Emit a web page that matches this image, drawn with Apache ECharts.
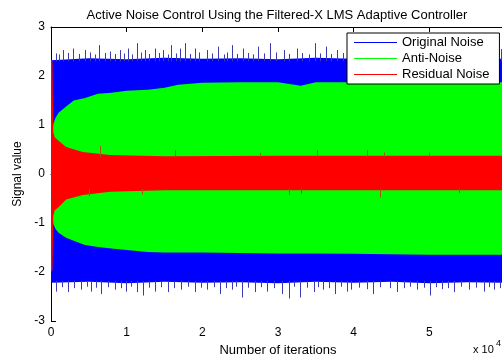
<!DOCTYPE html>
<html>
<head>
<meta charset="utf-8">
<script src="https://cdn.jsdelivr.net/npm/echarts@6/dist/echarts.min.js"></script>
<style>
  html, body { margin: 0; background: #fff; }
  #chart { width: 502px; height: 354px; }
</style>
</head>
<body>
<div id="chart"></div>
<script>
// x values are in units of 10^4 iterations
var scale = 10000
var xTicks = [0, 1, 2, 3, 4, 5, 6]
var yTicks = [-3, -2, -1, 0, 1, 2, 3]
var seriesNames = ['Original Noise', 'Anti-Noise', 'Residual Noise']
var seriesColors = ['#0000ff', '#00ff00', '#ff0000']

// original noise envelope
var origX   = [0, 0.5, 1, 1.5, 2, 2.5, 3, 3.5, 4, 4.5, 5, 5.5, 6]
var origTop = [2.32, 2.36, 2.34, 2.37, 2.35, 2.36, 2.34, 2.37, 2.35, 2.35, 2.36, 2.35, 2.35]
var origBot = [-2.22, -2.2, -2.23, -2.2, -2.22, -2.21, -2.23, -2.2, -2.22, -2.2, -2.23, -2.21, -2.22]
var origPeakX = [0.06, 0.16, 0.29, 0.45, 0.64, 0.78, 0.91, 1.02, 1.13, 1.24, 1.37, 1.48, 1.59, 1.70, 1.77, 1.90,
  2.06, 2.21, 2.39, 2.54, 2.74, 2.90, 3.08, 3.25, 3.49, 3.63, 3.78, 5.95,
  0.11, 0.22, 0.37, 0.52, 0.58, 0.71, 0.85, 0.97, 1.07, 1.19, 1.30, 1.43, 1.54, 1.65, 1.84, 1.96,
  2.13, 2.28, 2.33, 2.46, 2.61, 2.67, 2.82, 2.97, 3.15, 3.32, 3.41, 3.56, 3.70, 3.86]
var origPeakY = [2.46, 2.53, 2.56, 2.53, 2.63, 2.5, 2.53, 2.56, 2.67, 2.53, 2.56, 2.53, 2.63, 2.56, 2.67, 2.56,
  2.53, 2.6, 2.63, 2.56, 2.6, 2.67, 2.53, 2.56, 2.67, 2.6, 2.53, 2.55,
  2.44, 2.47, 2.45, 2.48, 2.44, 2.47, 2.45, 2.46, 2.44, 2.48, 2.45, 2.47, 2.44, 2.46, 2.45, 2.48,
  2.46, 2.44, 2.48, 2.45, 2.47, 2.44, 2.46, 2.48, 2.45, 2.47, 2.44, 2.46, 2.45, 2.47]
var origDipX = [0.07, 0.22, 0.40, 0.53, 0.66, 0.84, 0.99, 1.13, 1.22, 1.38, 1.54, 1.72, 1.90, 2.06, 2.24, 2.39,
  2.52, 2.70, 2.85, 3.05, 3.14, 3.29, 3.47, 3.60, 3.75, 3.91, 3.97, 4.18, 4.26, 4.48, 4.57, 4.84, 5.01, 5.17,
  5.32, 5.52, 5.72, 5.85,
  0.14, 0.31, 0.47, 0.60, 0.75, 0.92, 1.06, 1.30, 1.46, 1.63, 1.81, 1.98, 2.15, 2.31, 2.45, 2.61, 2.77, 2.95,
  3.21, 3.38, 3.53, 3.68, 3.83, 4.07, 4.35, 4.66, 4.75, 4.93, 5.09, 5.25, 5.42, 5.62, 5.79, 5.93]
var origDipY = [-2.40, -2.41, -2.36, -2.40, -2.45, -2.36, -2.40, -2.41, -2.48, -2.40, -2.41, -2.36, -2.41, -2.36,
  -2.45, -2.36, -2.52, -2.41, -2.40, -2.45, -2.54, -2.52, -2.41, -2.36, -2.45, -2.40, -2.36, -2.35, -2.45, -2.33,
  -2.41, -2.36, -2.48, -2.35, -2.41, -2.36, -2.40, -2.36,
  -2.31, -2.33, -2.30, -2.32, -2.31, -2.33, -2.30, -2.32, -2.31, -2.33, -2.30, -2.32, -2.31, -2.33, -2.30, -2.32,
  -2.31, -2.33, -2.30, -2.32, -2.31, -2.33, -2.30, -2.32, -2.31, -2.33, -2.30, -2.32, -2.31, -2.33, -2.30, -2.32,
  -2.31, -2.33]

// anti-noise envelope
var antiX   = [0, 0.01, 0.03, 0.06, 0.1, 0.2, 0.3, 0.45, 0.62, 0.8, 1.0, 1.28, 1.5, 1.68, 2.0, 2.5, 3.0, 3.3, 3.5, 4.0, 5.0, 6.0]
var antiTop = [0, 0.75, 1.02, 1.15, 1.25, 1.38, 1.5, 1.55, 1.64, 1.66, 1.7, 1.72, 1.76, 1.82, 1.86, 1.87, 1.87, 1.8, 1.87, 1.87, 1.87, 1.87]
var antiBot = [0, -0.75, -1.02, -1.12, -1.2, -1.3, -1.36, -1.45, -1.49, -1.52, -1.55, -1.59, -1.6, -1.6, -1.6, -1.61, -1.62, -1.62, -1.62, -1.63, -1.65, -1.65]

// residual noise envelope
var resX   = [0, 0.02, 0.03, 0.05, 0.1, 0.2, 0.42, 0.78, 1.5, 3.0, 6.0]
var resTop = [2.33, 2.3, 0.85, 0.75, 0.68, 0.55, 0.45, 0.39, 0.36, 0.37, 0.37]
var resBot = [-2.0, -1.96, -0.85, -0.74, -0.68, -0.52, -0.43, -0.36, -0.33, -0.33, -0.33]
var resPeakX = [0.65, 1.64, 2.76, 3.51, 4.18, 4.40, 4.99]
var resPeakY = [0.57, 0.49, 0.43, 0.49, 0.49, 0.44, 0.44]
var resDipX = [0.5, 1.2, 3.14, 3.31, 4.35, 5.39]
var resDipY = [-0.45, -0.42, -0.43, -0.41, -0.48, -0.39]

var chart = echarts.init(document.getElementById('chart'))
var font = 'Liberation Sans, Arial, sans-serif'

function band(name, color, xs, top, bot) {
  return {
    type: 'custom',
    name: name,
    color: color,
    silent: true,
    data: [[0, 0]],
    renderItem: function (params, api) {
      var pts = []
      for (var i = 0; i < xs.length; i++) pts.push(api.coord([xs[i] * scale, top[i]]))
      for (var j = xs.length - 1; j >= 0; j--) pts.push(api.coord([xs[j] * scale, bot[j]]))
      return { type: 'polygon', shape: { points: pts }, style: { fill: color } }
    }
  }
}

function spikes(name, color, xs, ys, base) {
  return {
    type: 'custom',
    name: name,
    silent: true,
    encode: { x: 0, y: [1, 2] },
    data: xs.map(function (x, i) { return [x * scale, base, ys[i]] }),
    renderItem: function (params, api) {
      var a = api.coord([api.value(0), api.value(1)])
      var b = api.coord([api.value(0), api.value(2)])
      return {
        type: 'line',
        shape: { x1: Math.round(a[0]) + 0.5, y1: a[1], x2: Math.round(b[0]) + 0.5, y2: b[1] },
        style: { stroke: color, lineWidth: 1 }
      }
    }
  }
}

var tickStyle = { show: true, inside: true, length: 5, lineStyle: { color: '#000' } }

chart.setOption({
  animation: false,
  backgroundColor: '#fff',
  grid: { left: 51, right: -3, top: 27, bottom: 33, outerBoundsMode: 'none' },
  legend: {
    data: seriesNames.map(function (n, i) {
      return { name: n, itemStyle: { color: seriesColors[i], borderWidth: 0 } }
    }),
    orient: 'vertical',
    left: 347,
    top: 33,
    z: 10,
    selectedMode: false,
    backgroundColor: '#fff',
    borderColor: '#000',
    borderWidth: 1,
    borderRadius: 0,
    padding: [3, 10, 3, 7],
    itemGap: 3,
    itemWidth: 43,
    itemHeight: 2,
    icon: 'path://M0,0H43V1H0Z',
    itemStyle: { borderWidth: 0 },
    textStyle: { fontSize: 13, color: '#000', fontFamily: font }
  },
  xAxis: [{
    type: 'value',
    min: xTicks[0] * scale,
    max: xTicks[xTicks.length - 1] * scale,
    interval: scale,
    position: 'bottom',
    axisLine: { lineStyle: { color: '#000' } },
    axisTick: tickStyle,
    splitLine: { show: false },
    axisLabel: {
      color: '#000', fontSize: 12, fontFamily: font, margin: 6,
      formatter: function (v) { return String(v / scale) }
    },
    name: 'Number of iterations',
    nameLocation: 'middle',
    nameGap: 16,
    nameTextStyle: { color: '#000', fontSize: 13, fontFamily: font }
  }, {
    type: 'value',
    min: xTicks[0] * scale,
    max: xTicks[xTicks.length - 1] * scale,
    interval: scale,
    position: 'top',
    axisLine: { lineStyle: { color: '#000' } },
    axisTick: tickStyle,
    axisLabel: { show: false },
    splitLine: { show: false }
  }],
  yAxis: {
    type: 'value',
    min: yTicks[0],
    max: yTicks[yTicks.length - 1],
    interval: 1,
    axisLine: { show: true, lineStyle: { color: '#000' } },
    axisTick: tickStyle,
    splitLine: { show: false },
    axisLabel: { color: '#000', fontSize: 12, fontFamily: font, margin: 6 },
    name: 'Signal value',
    nameLocation: 'middle',
    nameGap: 25,
    nameRotate: 90,
    nameTextStyle: { color: '#000', fontSize: 12, fontFamily: font }
  },
  graphic: [{
    type: 'text',
    x: 277, y: 15,
    style: {
      text: 'Active Noise Control Using the Filtered-X LMS Adaptive Controller',
      font: '13px ' + font, fill: '#000', align: 'center', verticalAlign: 'middle'
    }
  }, {
    type: 'text',
    x: 473, y: 350,
    style: { text: 'x 10', font: '11px ' + font, fill: '#000', verticalAlign: 'middle' }
  }, {
    type: 'text',
    x: 496, y: 344,
    style: { text: '4', font: '9px ' + font, fill: '#000', verticalAlign: 'middle' }
  }],
  series: [
    band(seriesNames[0], seriesColors[0], origX, origTop, origBot),
    spikes('origPeaks', '#3a3ab4', origPeakX, origPeakY, 2.3),
    spikes('origDips', '#3a3ab4', origDipX, origDipY, -2.18),
    band(seriesNames[1], seriesColors[1], antiX, antiTop, antiBot),
    band(seriesNames[2], seriesColors[2], resX, resTop, resBot),
    spikes('resPeaks', '#a05a14', resPeakX, resPeakY, 0.35),
    spikes('resDips', '#a05a14', resDipX, resDipY, -0.31)
  ]
})
</script>
</body>
</html>
